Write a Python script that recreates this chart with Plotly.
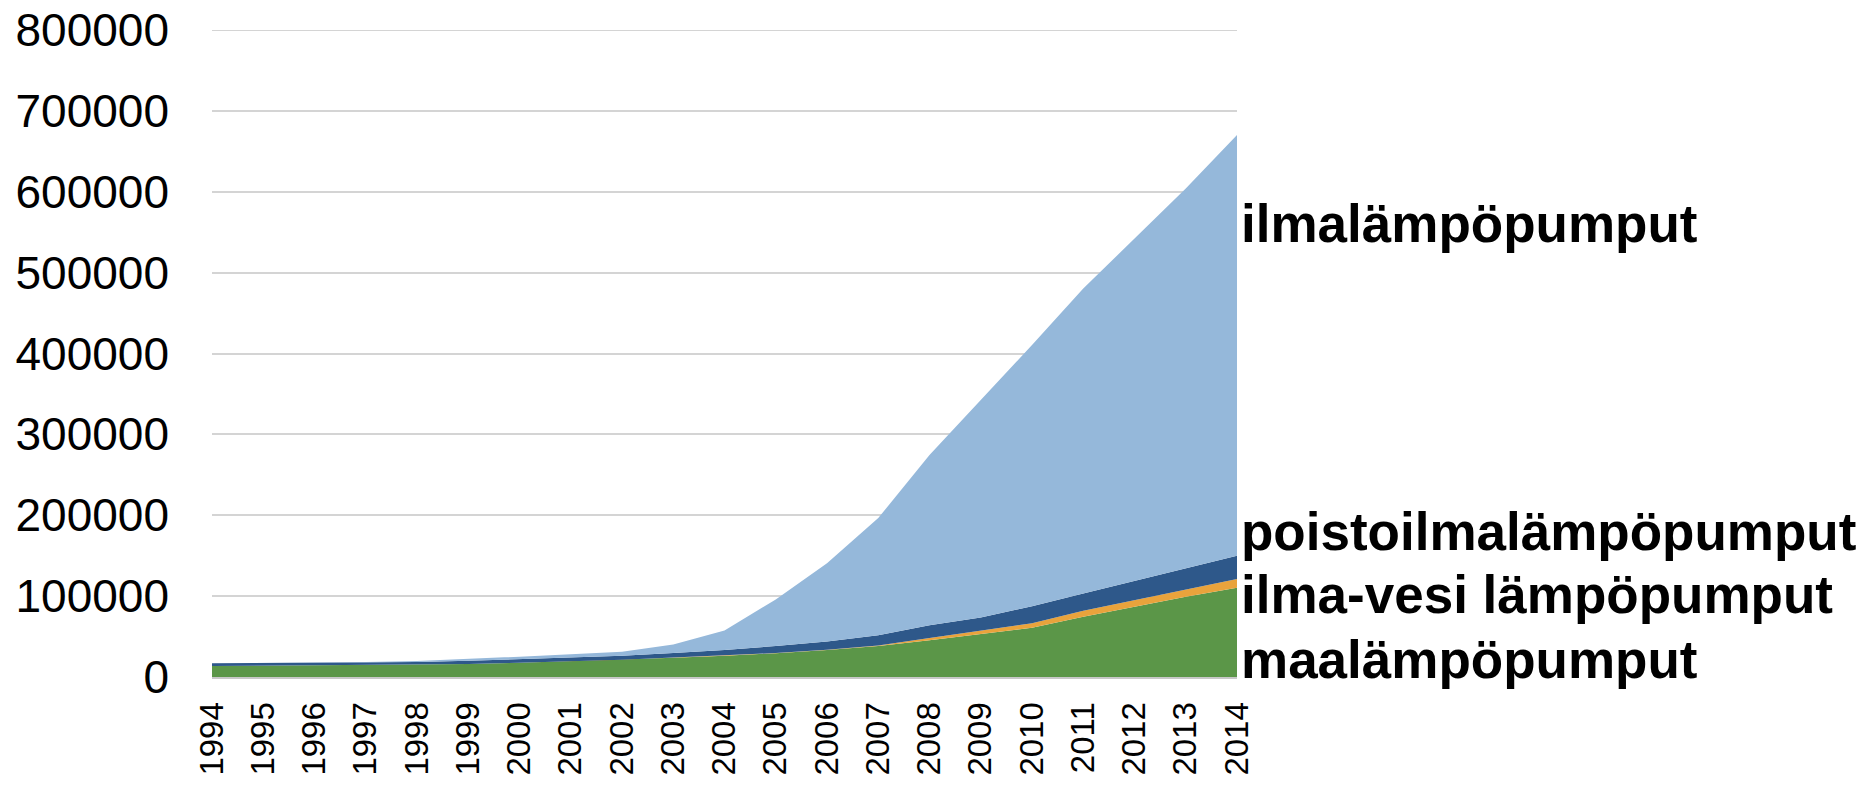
import plotly.graph_objects as go

years = list(range(1994, 2015))

# Number of heat pumps by type (stacked)
maalampo = [13600, 13900, 14200, 14600, 15000, 16000, 17600, 19400, 21400, 23900,
            26400, 29300, 33400, 38300, 45500, 53000, 61000, 74600, 86900, 99300, 110400]
ilmavesi = [0, 0, 0, 0, 0, 0, 0, 0, 0, 200,
            250, 300, 400, 500, 2800, 4000, 5500, 7400, 8300, 9100, 10700]
poistoilma = [3300, 3200, 3200, 3200, 3500, 4000, 4300, 4500, 4900, 5600,
              6750, 8700, 10200, 12700, 15700, 16500, 21000, 21400, 23500, 25900, 28900]
ilmalampo = [0, 100, 300, 700, 1300, 2200, 3200, 4100, 5000, 10500,
             24100, 57500, 96500, 145000, 210500, 269000, 323000, 376900, 423500, 469700, 520200]

series = [
    ("maalämpöpumput", maalampo, "#5B9648"),
    ("ilma-vesi lämpöpumput", ilmavesi, "#E9A33C"),
    ("poistoilmalämpöpumput", poistoilma, "#2E588A"),
    ("ilmalämpöpumput", ilmalampo, "#95B8DA"),
]

# label positions (data y) at right of plot
label_y = {
    "ilmalämpöpumput": 561000,
    "poistoilmalämpöpumput": 180000,
    "ilma-vesi lämpöpumput": 102000,
    "maalämpöpumput": 22000,
}

Y_MAX = 800000

fig = go.Figure()
for name, vals, col in series:
    fig.add_trace(go.Scatter(
        x=years, y=vals, name=name, mode="lines",
        stackgroup="one", line=dict(width=0, color=col),
        fillcolor=col, hoverinfo="x+y+name",
    ))

for name, vals, col in series:
    fig.add_annotation(
        x=2014, y=label_y[name], xref="x", yref="y",
        text=f"<b>{name}</b>", showarrow=False,
        xanchor="left", yanchor="middle", xshift=2,
        font=dict(family="Liberation Sans, Arial, sans-serif", size=53, color="black"),
    )

# top gridline at the upper edge of the value range
fig.add_shape(type="line", xref="paper", yref="y", x0=0, x1=1, y0=Y_MAX, y1=Y_MAX,
              line=dict(color="#D4D4D4", width=2), layer="below")

fig.update_layout(
    width=1870, height=785,
    margin=dict(l=212, r=633, t=30, b=108, autoexpand=False),
    paper_bgcolor="white", plot_bgcolor="white",
    showlegend=False,
    font=dict(family="Liberation Sans, Arial, sans-serif", color="black"),
)
fig.update_xaxes(
    range=[1994, 2014], tickvals=years, ticktext=[str(y) for y in years],
    tickangle=-90, tickfont=dict(size=33, color="black"),
    showgrid=False, zeroline=False, showline=True, linecolor="#C8C8C8", linewidth=2,
    ticks="", ticklabelstandoff=10, automargin=False,
)
fig.update_yaxes(
    range=[0, Y_MAX], dtick=100000, tickformat="d",
    tickfont=dict(size=46, color="black"),
    showgrid=True, gridcolor="#D4D4D4", gridwidth=2,
    zeroline=False, showline=False, ticks="", ticklabelstandoff=42, automargin=False,
)

fig.write_html("out.html")
